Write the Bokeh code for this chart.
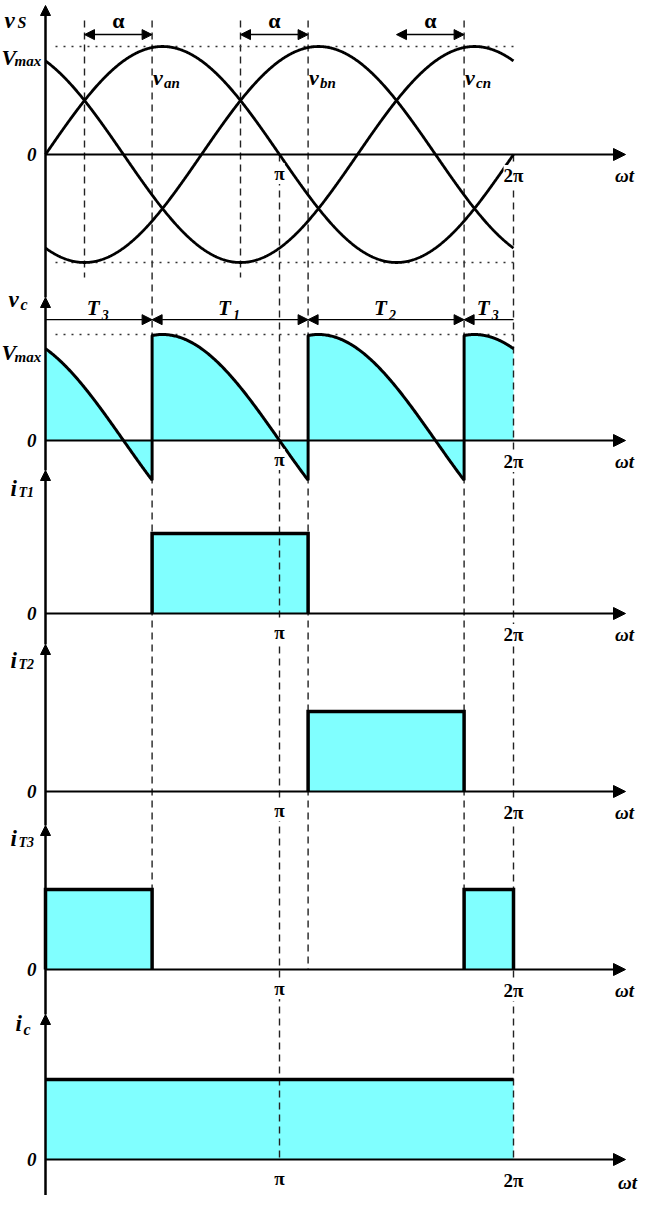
import numpy as np
from bokeh.plotting import figure
from bokeh.models import Range1d, Arrow, NormalHead
from bokeh.core.properties import value
from bokeh.embed import file_html
from bokeh.resources import INLINE

# ---------------- data ----------------
phase_names = ["an", "bn", "cn"]            # source phase voltages
phase_shift_deg = [0, 120, 240]             # phase lag of v_an, v_bn, v_cn
v_max = 1.0                                 # peak source voltage V_max
natural_commutation_deg = [30, 150, 270]    # points alpha is measured from
alpha_deg = 52                              # firing delay alpha
firing_deg = [82, 202, 322]                 # natural commutation + alpha
conduction_start_deg = [0, 82, 202, 322]    # conduction intervals in one period
conduction_end_deg = [82, 202, 322, 360]
conduction_thyristor = ["3", "1", "2", "3"]
thyristor_phase = {"1": "an", "2": "bn", "3": "cn"}
load_current = 1.0                          # constant load current
period_deg = [0, 360]
tick_deg = [180, 360]
tick_labels = ["π", "2π"]

# ---------------- layout ----------------
W, H = 643, 1195
X0, KX = 45.0, 1.30          # canvas x of wt=0, pixels per degree
# panel: (page y of zero line, pixels per unit)
PANELS = {"vs": (162, 108), "vc": (448, 106), "iT1": (621, 80),
          "iT2": (799, 80), "iT3": (977, 80), "ic": (1167, 80)}
AXIS_TOP = {"vs": 13, "vc": 305, "iT1": 478, "iT2": 652, "iT3": 833, "ic": 1022}
ORDER = ["vs", "vc", "iT1", "iT2", "iT3", "ic"]
CYAN = "#80FFFF"
SERIF = value("Liberation Serif")

p = figure(width=W, height=H, x_range=Range1d(-X0 / KX, (W - X0) / KX),
           y_range=Range1d(H, 0), output_backend="svg", toolbar_location=None,
           min_border=0, x_axis_location=None, y_axis_location=None,
           outline_line_color=None, background_fill_color="white",
           border_fill_color="white")
p.grid.visible = False
p.extra_y_ranges = {n: Range1d(-(H - (z - 8)) / u, (z - 8) / u) for n, (z, u) in PANELS.items()}


def yv(panel, page_y):
    z, u = PANELS[panel]
    return (z - page_y) / u


def cy(panel, v):
    z, u = PANELS[panel]
    return z - 8 - v * u


def xd(page_x):
    return (page_x - 8 - X0) / KX


def txt(x, y, s, panel, size, style="bold italic", align="left",
        baseline="alphabetic", dx=0, bg=None):
    kw = dict(x=[x], y=[y], text=[s], y_range_name=panel, text_font=SERIF,
              text_font_size=f"{size}px", text_font_style=style,
              text_align=align, text_baseline=baseline, x_offset=dx,
              text_color="black")
    if bg:
        kw["background_fill_color"] = bg
    p.text(**kw)


def head(size=10):
    return NormalHead(size=size, fill_color="black", line_color="black", line_width=1)


# ---------------- fills ----------------
seg_x, seg_y = [], []
for s, e, th in zip(conduction_start_deg, conduction_end_deg, conduction_thyristor):
    ph = phase_shift_deg[phase_names.index(thyristor_phase[th])]
    t = np.linspace(s, e, 160)
    seg_x.extend(t)
    seg_y.extend(v_max * np.sin(np.radians(t - ph)))
seg_x, seg_y = np.array(seg_x), np.array(seg_y)
p.varea(x=seg_x, y1=np.zeros_like(seg_y), y2=seg_y, fill_color=CYAN, y_range_name="vc")

for th in ["1", "2", "3"]:
    panel = "iT" + th
    L = [s for s, c in zip(conduction_start_deg, conduction_thyristor) if c == th]
    R = [e for e, c in zip(conduction_end_deg, conduction_thyristor) if c == th]
    p.quad(left=L, right=R, bottom=[0] * len(L), top=[load_current] * len(L),
           fill_color=CYAN, line_color=None, y_range_name=panel)
p.quad(left=[period_deg[0]], right=[period_deg[1]], bottom=[0], top=[load_current],
       fill_color=CYAN, line_color=None, y_range_name="ic")

# ---------------- dashed guides ----------------
gx, gy0, gy1 = [], [], []
for n in natural_commutation_deg[:2]:
    gx.append(n); gy0.append(cy("vs", 1.24)); gy1.append(cy("vs", -1.14))
for f, endv in zip(firing_deg, [load_current, 0, load_current]):
    gx.append(f); gy0.append(cy("vs", 1.24)); gy1.append(cy("iT3", endv))
for t in tick_deg:
    gx.append(t); gy0.append(cy("vs", 0)); gy1.append(cy("ic", 0))
p.segment(x0=gx, y0=gy0, x1=gx, y1=gy1, line_dash="7 5", line_width=1.4,
          line_color="#222222")

# dotted V_max levels
p.segment(x0=[xd(63)] * 2, y0=[v_max, -v_max], x1=[period_deg[1]] * 2, y1=[v_max, -v_max],
          line_dash="2 6", line_width=1.3, line_color="#333333", y_range_name="vs")
p.segment(x0=[xd(63)], y0=[v_max], x1=[period_deg[1]], y1=[v_max],
          line_dash="2 6", line_width=1.3, line_color="#333333", y_range_name="vc")

# ---------------- curves ----------------
theta = np.linspace(period_deg[0], period_deg[1], 721)
for ph in phase_shift_deg:
    p.line(theta, v_max * np.sin(np.radians(theta - ph)), line_color="black",
           line_width=2.8, y_range_name="vs")
p.line(seg_x, seg_y, line_color="black", line_width=3, y_range_name="vc")

for th in ["1", "2", "3"]:
    panel = "iT" + th
    for s, e, c in zip(conduction_start_deg, conduction_end_deg, conduction_thyristor):
        if c == th:
            p.line([s, s, e, e], [0, load_current, load_current, 0], line_color="black",
                   line_width=3.5, line_join="miter", y_range_name=panel)
p.line(period_deg, [load_current, load_current], line_color="black", line_width=3.5,
       y_range_name="ic")

# ---------------- axes ----------------
for i, panel in enumerate(ORDER):
    bottom_page = AXIS_TOP[ORDER[i + 1]] if i + 1 < len(ORDER) else 1203
    p.add_layout(Arrow(end=head(10), x_start=0, y_start=yv(panel, bottom_page),
                       x_end=0, y_end=yv(panel, AXIS_TOP[panel]), line_width=2.5,
                       y_range_name=panel))
    p.add_layout(Arrow(end=head(12), x_start=0, y_start=0, x_end=xd(633), y_end=0,
                       line_width=1.8, y_range_name=panel))
    z, u = PANELS[panel]
    txt(0, 0, "0", panel, 19, align="right", baseline="middle", dx=-9)
    for t, lab, off in zip(tick_deg, tick_labels, [19, 21]):
        txt(t, -off / u, lab, panel, 19, style="bold", align="center",
            baseline="middle", bg="white")
    if panel == "ic":
        txt(xd(635), -23 / u, "ωt", panel, 19, align="center", baseline="middle")
    else:
        txt(xd(632), -21 / u, "ωt", panel, 19, align="center", baseline="middle")

# alpha arrows
for n, f in zip(natural_commutation_deg, firing_deg):
    p.add_layout(Arrow(start=head(10), end=head(10), x_start=n, y_start=1.11,
                       x_end=f, y_end=1.11, line_width=1.5, y_range_name="vs"))
    txt((n + f) / 2, 1.24, "α", "vs", 22, style="bold", align="center", baseline="middle")

# conduction arrows T1, T2, T3
for s, e, c in zip(conduction_start_deg, conduction_end_deg, conduction_thyristor):
    p.add_layout(Arrow(start=head(10) if s > period_deg[0] else None,
                       end=head(10) if e < period_deg[1] else None,
                       x_start=s, y_start=1.14, x_end=e, y_end=1.14, line_width=1.3,
                       y_range_name="vc"))
    mid = (s + e) / 2
    txt(mid, yv("vc", 315), "T", "vc", 21, dx=-12)
    txt(mid, yv("vc", 322), c, "vc", 14, dx=3)

# phase labels
for f, name in zip(firing_deg, phase_names):
    txt(f, yv("vs", 85), "v", "vs", 22, dx=1)
    txt(f, yv("vs", 90), name, "vs", 15, dx=12)

# y-axis labels
A = 53  # page x of axis
txt(0, yv("vs", 28), "v", "vs", 23, dx=12 - A)
txt(0, yv("vs", 30), "S", "vs", 16, dx=25 - A)
txt(0, yv("vs", 65), "V", "vs", 22, dx=9 - A)
txt(0, yv("vs", 68), "max", "vs", 15, dx=22 - A)
txt(0, yv("vc", 307), "v", "vc", 23, dx=16 - A)
txt(0, yv("vc", 312), "c", "vc", 16, dx=28 - A)
txt(0, yv("vc", 360), "V", "vc", 22, dx=9 - A)
txt(0, yv("vc", 364), "max", "vc", 15, dx=22 - A)
for th, base in zip(["1", "2", "3"], [496, 668, 846]):
    panel = "iT" + th
    txt(0, yv(panel, base), "i", panel, 23, dx=18 - A)
    txt(0, yv(panel, base + 4), "T" + th, panel, 14, dx=26 - A)
txt(0, yv("ic", 1031), "i", "ic", 23, dx=23 - A)
txt(0, yv("ic", 1037), "c", "ic", 16, dx=31 - A)

open("out.html", "w").write(file_html(p, INLINE))
